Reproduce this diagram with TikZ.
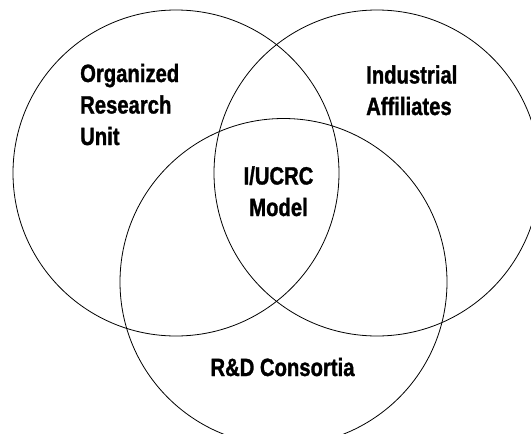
\documentclass[tikz,border=0pt]{standalone}
\usepackage{fontspec}
\setmainfont{Liberation Sans}[FakeStretch=0.81,BoldFeatures={FakeBold=1.2}]
\begin{document}
\begin{tikzpicture}[x=1pt,y=-1pt,
  ring/.style={draw=black,line width=0.8pt},
  lbl/.style={inner sep=0pt,font=\fontsize{25}{31.5}\selectfont\bfseries}]
\useasboundingbox (0,0) rectangle (531,434);
\clip (0,0) rectangle (531,434);
\draw[ring] (176,173) circle[radius=163pt];
\draw[ring] (377,173) circle[radius=163pt];
\draw[ring] (283.5,282) circle[radius=163.5pt];
\node[lbl,align=left,anchor=base west] (oru) at (80,145) {Organized\\Research\\Unit};
\node[lbl,align=left,anchor=base west] (ia) at (366,115) {Industrial\\Affiliates};
\node[lbl,align=center,anchor=base] (iu) at (278.5,216) {I/UCRC\\Model};
\node[lbl,anchor=base] (rd) at (282.5,376) {R\&D Consortia};
\end{tikzpicture}
\end{document}
